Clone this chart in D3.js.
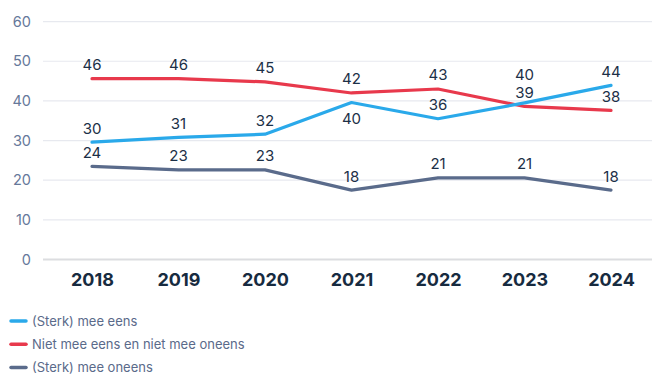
<!DOCTYPE html>
<html><head><meta charset="utf-8">
<script src="https://cdn.jsdelivr.net/npm/d3@7"></script>
<style>
html,body{margin:0;padding:0;background:#fff;}
svg{display:block;font-family:Inter, "Noto Sans", sans-serif;}
</style></head>
<body>
<svg id="chart" width="652" height="374"></svg>
<script>
const years = [2018, 2019, 2020, 2021, 2022, 2023, 2024];
const seriesNames = ["(Sterk) mee eens", "Niet mee eens en niet mee oneens", "(Sterk) mee oneens"];
const eens = [29.6, 30.8, 31.6, 39.6, 35.5, 39.5, 43.9];
const neutraal = [45.6, 45.6, 44.8, 42.0, 43.0, 38.6, 37.6];
const oneens = [23.5, 22.6, 22.6, 17.5, 20.6, 20.6, 17.5];
const yTicks = [0, 10, 20, 30, 40, 50, 60];
const colors = ["#2aa9ea", "#e8394c", "#5a6b8b"];

// label placement tweaks (style, not data): offset in px from point
const labelOffsetDefault = -14;
const labelOffsets = { "0-2021": 16, "0-2023": -28.5 };

const svg = d3.select("#chart");
const x = d3.scalePoint().domain(years).range([92, 611]);
const y = d3.scaleLinear().domain([0, 60]).range([259.5, 21.6]);

// grid
svg.append("g").selectAll("line").data(yTicks).join("line")
  .attr("x1", 43).attr("x2", 652)
  .attr("y1", d => y(d)).attr("y2", d => y(d))
  .attr("stroke", d => d === 0 ? "#dcdde0" : "#e7e9ef")
  .attr("stroke-width", d => d === 0 ? 2 : 1.2);

// y tick labels
svg.append("g").selectAll("text").data(yTicks).join("text")
  .attr("x", 31).attr("y", d => y(d)).attr("dy", "0.36em")
  .attr("text-anchor", "end").attr("fill", "#66789a")
  .attr("font-size", 14.5).text(d => d);

// x axis labels
const xAxis = svg.append("g").attr("transform", "translate(0,259.5)")
  .call(d3.axisBottom(x).tickSize(0).tickPadding(14));
xAxis.select(".domain").remove();
xAxis.selectAll("text").attr("font-size", 18).attr("font-weight", 700)
  .attr("fill", "#172b40").attr("font-family", "Inter, sans-serif")
  .attr("dy", "0.71em");

const data = [eens, neutraal, oneens];
const line = d3.line().x((d, i) => x(years[i])).y(d => y(d));

const order = [2, 1, 0];
order.forEach(s => {
  svg.append("path").datum(data[s])
    .attr("fill", "none").attr("stroke", colors[s])
    .attr("stroke-width", 3.2).attr("stroke-linejoin", "round")
    .attr("stroke-linecap", "round").attr("d", line);
});

// data labels
data.forEach((vals, s) => {
  svg.append("g").selectAll("text").data(vals).join("text")
    .attr("x", (d, i) => x(years[i]))
    .attr("y", (d, i) => y(d) + (labelOffsets[s + "-" + years[i]] ?? labelOffsetDefault))
    .attr("dy", "0.36em").attr("text-anchor", "middle")
    .attr("fill", "#1c3047").attr("font-size", 15)
    .text(d => Math.round(d));
});

// legend
const legend = svg.append("g");
seriesNames.forEach((n, i) => {
  const gy = 321 + i * 23.3;
  legend.append("line").attr("x1", 11).attr("x2", 26).attr("y1", gy).attr("y2", gy)
    .attr("stroke", colors[i]).attr("stroke-width", 3.5).attr("stroke-linecap", "round");
  legend.append("text").attr("x", 32).attr("y", gy).attr("dy", "0.35em")
    .attr("fill", "#5a6a8a").attr("font-size", 13).text(n);
});
</script>
</body></html>
